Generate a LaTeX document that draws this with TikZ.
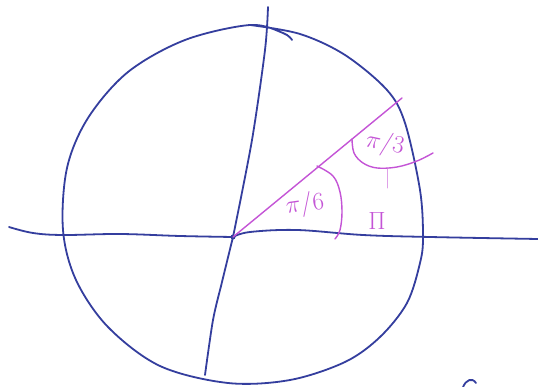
\documentclass[tikz,border=0pt]{standalone}
\usetikzlibrary{calc}
\definecolor{inkblue}{RGB}{52,62,158}
\definecolor{inkmag}{RGB}{196,84,214}
\tikzset{
  ink/.style={draw=inkblue, line width=1.8pt, line cap=round, line join=round},
  pen/.style={draw=inkmag, line width=1.4pt, line cap=round, line join=round},
  lbl/.style={text=inkmag, inner sep=0pt, font=\fontsize{26}{28}\selectfont}
}
\begin{document}
\begin{tikzpicture}[x=1pt,y=-1pt]
\useasboundingbox (0,0) rectangle (538,387);
\fill[white] (0,0) rectangle (538,387);
% circle
\draw[ink] plot[smooth, tension=0.55] coordinates {
 (250,25) (300,34) (345,55) (387,90) (405,123) (420,190) (423,237) (420,263)
 (407,303) (380,337) (345,362) (290,380) (228,383) (160,366) (108,327)
 (76,280) (63,230) (67,168) (88,118) (128,72) (185,40) (250,25) (283,33) (292,40)};
% horizontal axis
\coordinate (O) at (233,237);
\draw[ink] plot[smooth, tension=0.6] coordinates {(9,227) (33,233) (63,235) (120,234) (180,236) (O)};
\draw[ink] plot[smooth, tension=0.6] coordinates {(O) (250,232) (297,230) (363,235) (430,237) (538,239)};
% vertical axis
\draw[ink] plot[smooth, tension=0.5] coordinates {(268,7) (265,50) (252,140) (O)};
\draw[ink] plot[smooth, tension=0.5] coordinates {(O) (222,282) (213,320) (205,375)};
\fill[inkblue] (O) circle (2.5pt);
% small hook bottom right
\draw[ink] (463,387) .. controls (466,380) and (472,377) .. (476,383);
% magenta
\coordinate (P) at (402,98);
\draw[pen] (O) -- (P);
\draw[pen] plot[smooth, tension=0.6] coordinates {(317,166) (333,176) (340,192) (342,212) (340,230) (335,239)};
\draw[pen] plot[smooth, tension=0.6] coordinates {(352,139) (354,153) (363,163) (377,168) (397,167) (417,161) (433,153)};
\draw[pen, draw=inkmag!55, line width=1pt] (387,169) -- (387,188);
\node[lbl, rotate=8] (a) at (305,205) {$\pi/6$};
\node[lbl, rotate=-12] (b) at (385,144) {$\pi/3$};
\node[lbl] (c) at (377,221) {$\Pi$};
\end{tikzpicture}
\end{document}
